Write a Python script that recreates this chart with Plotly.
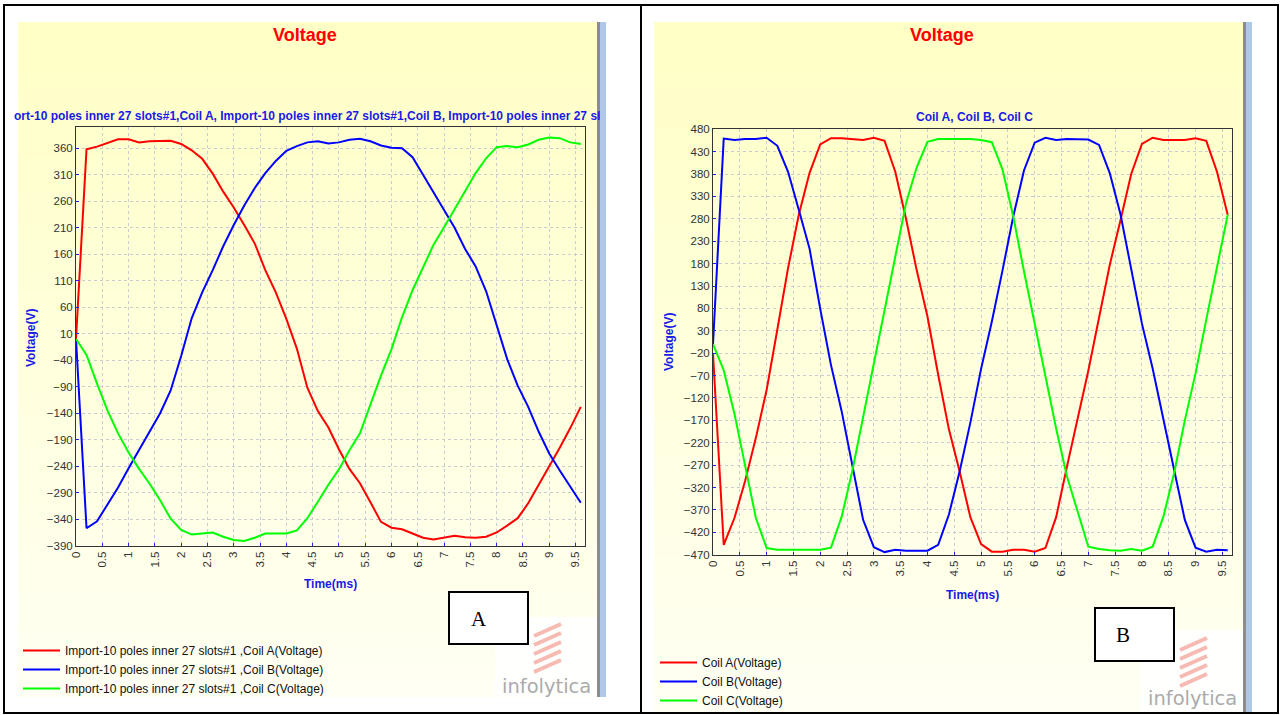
import plotly.graph_objects as go

W, H = 1282, 715


def px(x):
    return x / W


def py(y):
    return 1 - y / H


# ---------------- data ----------------
TIME_MS = [0, 0.2, 0.4, 0.6, 0.8, 1.0, 1.2, 1.4, 1.6, 1.8, 2.0, 2.2, 2.4, 2.6, 2.8,
           3.0, 3.2, 3.4, 3.6, 3.8, 4.0, 4.2, 4.4, 4.6, 4.8, 5.0, 5.2, 5.4, 5.6, 5.8,
           6.0, 6.2, 6.4, 6.6, 6.8, 7.0, 7.2, 7.4, 7.6, 7.8, 8.0, 8.2, 8.4, 8.6, 8.8,
           9.0, 9.2, 9.4, 9.6]

# Panel A (Import-10 poles inner 27 slots#1)
A_COIL_A = [0, 358, 363, 370, 377, 377, 371, 373, 374, 374, 368, 356, 340, 312, 278,
            248, 215, 180, 130, 88, 38, -18, -92, -136, -167, -208, -245, -272, -308, -345,
            -356, -359, -367, -375, -378, -374, -371, -374, -375, -373, -365, -352, -338, -310, -276,
            -240, -205, -168, -128]
A_COIL_B = [0, -357, -344, -312, -280, -244, -210, -175, -140, -97, -32, 39, 88, 130, 175,
            215, 252, 285, 313, 336, 355, 364, 371, 373, 369, 371, 376, 378, 373, 365,
            361, 360, 343, 310, 277, 245, 210, 170, 137, 90, 28, -38, -88, -128, -175,
            -216, -248, -278, -309]
A_COIL_C = [0, -30, -84, -135, -178, -214, -245, -273, -304, -339, -360, -369, -367, -365, -373,
            -379, -381, -375, -367, -367, -367, -361, -338, -307, -275, -246, -210, -178, -123, -69,
            -19, 41, 92, 136, 178, 211, 245, 279, 313, 341, 362, 364, 362, 367, 376,
            380, 379, 371, 368]

# Panel B (Coil A, Coil B, Coil C)
B_COIL_A = [-20, -448, -388, -305, -209, -102, 33, 170, 289, 382, 446, 460, 460, 458, 456,
            461, 454, 385, 280, 165, 62, -68, -190, -284, -386, -446, -463, -463, -459, -459,
            -463, -455, -386, -274, -167, -59, 59, 177, 277, 380, 447, 461, 456, 456, 456,
            460, 454, 385, 289]
B_COIL_B = [0, 459, 456, 458, 458, 461, 443, 385, 300, 214, 79, -46, -150, -271, -392,
            -453, -464, -459, -461, -461, -461, -448, -380, -284, -175, -55, 50, 165, 285, 388,
            450, 461, 456, 458, 458, 457, 445, 382, 290, 168, 46, -54, -170, -280, -392,
            -454, -463, -459, -460]
B_COIL_C = [0, -58, -155, -270, -388, -455, -459, -459, -459, -459, -459, -454, -385, -282, -162,
            -37, 82, 200, 315, 395, 452, 458, 458, 458, 458, 456, 451, 390, 285, 163,
            45, -73, -188, -294, -374, -452, -457, -460, -461, -457, -461, -452, -385, -288, -170,
            -65, 55, 175, 289]

X_TICKS = [0, 0.5, 1, 1.5, 2, 2.5, 3, 3.5, 4, 4.5, 5, 5.5, 6, 6.5, 7, 7.5, 8, 8.5, 9, 9.5]
A_Y_TICKS = [-390, -340, -290, -240, -190, -140, -90, -40, 10, 60, 110, 160, 210, 260, 310, 360]
B_Y_TICKS = [-470, -420, -370, -320, -270, -220, -170, -120, -70, -20, 30, 80, 130, 180,
             230, 280, 330, 380, 430, 480]

A_NAMES = ["Import-10 poles inner 27 slots#1 ,Coil A(Voltage)",
           "Import-10 poles inner 27 slots#1 ,Coil B(Voltage)",
           "Import-10 poles inner 27 slots#1 ,Coil C(Voltage)"]
B_NAMES = ["Coil A(Voltage)", "Coil B(Voltage)", "Coil C(Voltage)"]
COLORS = ["#FF0000", "#0000FF", "#00FF00"]

A_SUBTITLE = "ort-10 poles inner 27 slots#1,Coil A, Import-10 poles inner 27 slots#1,Coil B, Import-10 poles inner 27 sl"
B_SUBTITLE = "Coil A, Coil B, Coil C"

FONT = "Liberation Sans"

fig = go.Figure()

for name, vals, col in zip(A_NAMES, [A_COIL_A, A_COIL_B, A_COIL_C], COLORS):
    fig.add_trace(go.Scatter(x=TIME_MS, y=vals, mode="lines", name=name,
                             line=dict(color=col, width=2),
                             xaxis="x", yaxis="y", legend="legend"))
for name, vals, col in zip(B_NAMES, [B_COIL_A, B_COIL_B, B_COIL_C], COLORS):
    fig.add_trace(go.Scatter(x=TIME_MS, y=vals, mode="lines", name=name,
                             line=dict(color=col, width=2),
                             xaxis="x2", yaxis="y2", legend="legend2"))

axis_common = dict(
    showgrid=True, gridcolor="#CBCBD2", griddash="3px,3px", gridwidth=1,
    zeroline=False, showline=True, mirror=True, linecolor="#333333", linewidth=1,
    ticks="inside", ticklen=3, tickcolor="#2020FF", tickwidth=1,
    tickfont=dict(family=FONT, size=11.5, color="#333333"),
    fixedrange=True,
)

fig.update_layout(
    xaxis=dict(domain=[px(76), px(585)], range=[0, 9.68], anchor="y",
               tickmode="array", tickvals=X_TICKS, tickangle=-90, **axis_common),
    yaxis=dict(domain=[py(546), py(127)], range=[-390.5, 400], anchor="x",
               tickmode="array", tickvals=A_Y_TICKS, **axis_common),
    xaxis2=dict(domain=[px(713), px(1232)], range=[0, 9.68], anchor="y2",
                tickmode="array", tickvals=X_TICKS, tickangle=-90, **axis_common),
    yaxis2=dict(domain=[py(555), py(129)], range=[-470.5, 480.5], anchor="x2",
                tickmode="array", tickvals=B_Y_TICKS, **axis_common),
)

# ---------------- decoration shapes ----------------
shapes = []


def rect(x0, y0, x1, y1, fill=None, line_color=None, lw=0, layer="below"):
    d = dict(type="rect", xref="paper", yref="paper",
             x0=px(x0), x1=px(x1), y0=py(y1), y1=py(y0), layer=layer,
             line=dict(width=lw, color=line_color or "rgba(0,0,0,0)"))
    if fill:
        d["fillcolor"] = fill
    shapes.append(d)


def panel(x0, x1, y0, y1, nb=40):
    top = (255, 255, 198)
    bot = (255, 255, 243)
    h = (y1 - y0) / nb
    for i in range(nb):
        f = i / (nb - 1)
        c = tuple(round(top[k] + (bot[k] - top[k]) * f) for k in range(3))
        rect(x0, y0 + i * h, x1, y0 + (i + 1) * h + 0.6, fill="rgb(%d,%d,%d)" % c)


panel(18, 598, 22, 697)
panel(654, 1244, 22, 712)

# logo white backgrounds
rect(495, 617, 597, 697, fill="rgba(255,255,255,0.85)")
rect(1140, 630, 1243, 712, fill="rgba(255,255,255,0.85)")

# right-hand scroll bars
rect(597, 22, 600, 697, fill="#8C8C8C")
rect(600, 22, 606, 697, fill="#AFC8EA")
rect(1243, 22, 1246, 712, fill="#8C8C8C")
rect(1246, 22, 1252, 712, fill="#AFC8EA")


def hatch(x0, y0):
    for i in range(5):
        yy = y0 + i * 9
        shapes.append(dict(type="line", xref="paper", yref="paper", layer="above",
                           x0=px(x0), y0=py(yy + 12), x1=px(x0 + 27), y1=py(yy),
                           line=dict(color="rgba(240,130,118,0.55)", width=4)))


hatch(534, 624)
hatch(1180, 638)

# labelled boxes
rect(449, 592, 528, 644, fill="white", line_color="black", lw=2, layer="above")
rect(1095, 608, 1174, 661, fill="white", line_color="black", lw=2, layer="above")

# outer frame and divider
rect(4, 5, 1278, 713, line_color="black", lw=2, layer="above")
shapes.append(dict(type="line", xref="paper", yref="paper", layer="above",
                   x0=px(641), x1=px(641), y0=py(5), y1=py(713),
                   line=dict(color="black", width=2)))

# ---------------- text ----------------
ann = []


def text(x, y, s, size=11, color="black", family=FONT, angle=0, xanchor="center"):
    ann.append(dict(xref="paper", yref="paper", x=px(x), y=py(y), text=s,
                    showarrow=False, xanchor=xanchor, yanchor="middle", textangle=angle,
                    font=dict(family=family, size=size, color=color)))


text(305, 35, "<b>Voltage</b>", size=18, color="#FF0000")
text(942, 35, "<b>Voltage</b>", size=18, color="#FF0000")
text(307, 116, "<b>" + A_SUBTITLE + "</b>", size=12, color="#1A1AE6")
text(974, 117, "<b>" + B_SUBTITLE + "</b>", size=12, color="#1A1AE6")
text(330, 584, "<b>Time(ms)</b>", size=12, color="#1A1AE6")
text(972, 595, "<b>Time(ms)</b>", size=12, color="#1A1AE6")
text(31, 338, "<b>Voltage(V)</b>", size=12, color="#1A1AE6", angle=-90)
text(669, 342, "<b>Voltage(V)</b>", size=12, color="#1A1AE6", angle=-90)
text(479, 619, "A", size=21, family="Liberation Serif")
text(1123, 635, "B", size=21, family="Liberation Serif")
text(546, 686, "infolytica", size=19.5, color="#ABABAB", family="DejaVu Sans")
text(1192, 698, "infolytica", size=19.5, color="#ABABAB", family="DejaVu Sans")

legend_common = dict(xanchor="left", yanchor="top", bgcolor="rgba(0,0,0,0)",
                     font=dict(family=FONT, size=12, color="#111111"),
                     tracegroupgap=0, itemwidth=37, borderwidth=0)

fig.update_layout(
    width=W, height=H, margin=dict(l=0, r=0, t=0, b=0, autoexpand=False),
    paper_bgcolor="white", plot_bgcolor="rgba(0,0,0,0)",
    shapes=shapes, annotations=ann, showlegend=True,
    legend=dict(x=px(18), y=py(636), **legend_common),
    legend2=dict(x=px(655), y=py(648), **legend_common),
)

fig.write_html("out.html", config={"displayModeBar": False},
               post_script="document.body.style.margin='0';document.body.style.overflow='hidden';")
